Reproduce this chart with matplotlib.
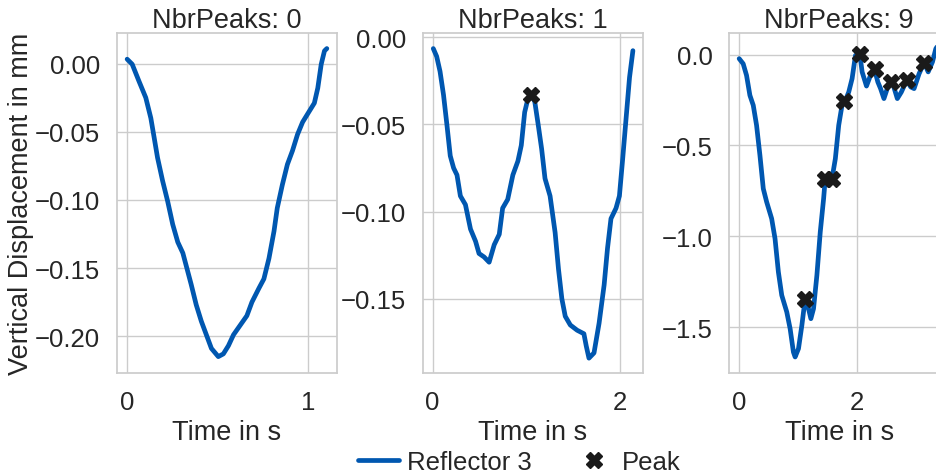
import numpy as np
import matplotlib.pyplot as plt
import seaborn as sns

sns.set_theme(style="whitegrid")
plt.rcParams['font.family'] = ['Liberation Sans', 'DejaVu Sans']
plt.rcParams['axes.unicode_minus'] = True

# Reflector 3 traces for three recordings (time in s, displacement in mm)
t0 = [0, 0.028, 0.065, 0.103, 0.131, 0.149, 0.168, 0.196, 0.224, 0.252, 0.280, 0.308,
      0.326, 0.354, 0.382, 0.410, 0.438, 0.466, 0.504, 0.532, 0.560, 0.588, 0.625, 0.662,
      0.690, 0.728, 0.756, 0.784, 0.812, 0.830, 0.858, 0.886, 0.914, 0.942, 0.970, 1.007,
      1.035, 1.054, 1.073, 1.091, 1.104]
d0 = [0.0032, -0.0005, -0.0128, -0.025, -0.040, -0.054, -0.069, -0.086, -0.101, -0.118,
      -0.131, -0.139, -0.148, -0.162, -0.177, -0.189, -0.199, -0.209, -0.215, -0.213,
      -0.207, -0.199, -0.192, -0.185, -0.175, -0.165, -0.158, -0.143, -0.123, -0.106,
      -0.089, -0.074, -0.064, -0.052, -0.043, -0.035, -0.029, -0.018, -0.0005, 0.0093, 0.011]

t1 = [0.007, 0.043, 0.079, 0.116, 0.152, 0.188, 0.224, 0.260, 0.296, 0.350, 0.404, 0.458,
      0.495, 0.549, 0.603, 0.657, 0.711, 0.747, 0.801, 0.856, 0.910, 0.946, 0.982, 1.018,
      1.054, 1.090, 1.126, 1.163, 1.199, 1.253, 1.307, 1.343, 1.379, 1.415, 1.469, 1.542,
      1.614, 1.639, 1.668, 1.722, 1.776, 1.830, 1.866, 1.903, 1.957, 1.993, 2.029, 2.065,
      2.101, 2.137]
d1 = [-0.0065, -0.011, -0.0196, -0.033, -0.050, -0.068, -0.075, -0.079, -0.091, -0.096,
      -0.110, -0.117, -0.124, -0.126, -0.129, -0.119, -0.113, -0.098, -0.093, -0.079,
      -0.071, -0.062, -0.043, -0.035, -0.033, -0.037, -0.050, -0.064, -0.081, -0.091,
      -0.112, -0.133, -0.150, -0.160, -0.165, -0.168, -0.170, -0.177, -0.184, -0.181,
      -0.164, -0.142, -0.121, -0.104, -0.098, -0.091, -0.069, -0.046, -0.023, -0.0077]

t2 = [0, 0.068, 0.125, 0.182, 0.239, 0.295, 0.352, 0.409, 0.466, 0.551, 0.608, 0.665,
      0.722, 0.807, 0.864, 0.920, 0.949, 1.006, 1.063, 1.119, 1.176, 1.216, 1.261, 1.318,
      1.375, 1.432, 1.460, 1.489, 1.530, 1.574, 1.631, 1.688, 1.744, 1.784, 1.801, 1.858,
      1.915, 1.972, 2.045, 2.085, 2.159, 2.227, 2.295, 2.352, 2.398, 2.455, 2.511, 2.568,
      2.614, 2.682, 2.750, 2.841, 2.909, 2.966, 3.051, 3.136, 3.205, 3.278, 3.335, 3.39]
d2 = [-0.022, -0.050, -0.114, -0.224, -0.279, -0.389, -0.554, -0.738, -0.811, -0.903,
      -1.013, -1.197, -1.325, -1.417, -1.509, -1.638, -1.665, -1.619, -1.491, -1.344,
      -1.399, -1.454, -1.399, -1.215, -0.977, -0.793, -0.683, -0.692, -0.690, -0.683,
      -0.573, -0.389, -0.279, -0.257, -0.252, -0.206, -0.132, -0.004, 0.0055, -0.095,
      -0.173, -0.114, -0.081, -0.151, -0.187, -0.242, -0.187, -0.151, -0.169, -0.242,
      -0.206, -0.141, -0.178, -0.187, -0.105, -0.044, -0.095, -0.040, 0.033, 0.06]

# detected peaks
pk_t1 = [1.054]
pk_d1 = [-0.033]
pk_t2 = [1.119, 1.460, 1.574, 1.784, 2.045, 2.295, 2.568, 2.841, 3.136]
pk_d2 = [-1.344, -0.683, -0.683, -0.257, 0.0055, -0.081, -0.151, -0.141, -0.044]

runs = [(t0, d0, [], []), (t1, d1, pk_t1, pk_d1), (t2, d2, pk_t2, pk_d2)]
xticks = [[0, 1], [0, 2], [0, 2]]
yticks = [[0.0, -0.05, -0.10, -0.15, -0.20], [0.0, -0.05, -0.10, -0.15],
          [0.0, -0.5, -1.0, -1.5]]
yfmt = ['%.2f', '%.2f', '%.1f']
ylims = [(-0.227, 0.0225), (-0.1925, 0.0025), (-1.753, 0.12)]
xlims = [(-0.056, 1.16), (-0.102, 2.245), (-0.17, 3.56)]

line_color = '#0057b0'
fig = plt.figure(figsize=(9.36, 4.77), dpi=100)
lefts = [0.125, 0.452, 0.779]

for i, (t, d, pt, pd) in enumerate(runs):
    ax = fig.add_axes([lefts[i], 0.216, 0.235, 0.713])
    ax.plot(t, d, color=line_color, lw=3.4, label='Reflector 3')
    if len(pt) > 0:
        ax.plot(pt, pd, 'X', color='#1a1a1a', ms=11, label='Peak')
    ax.set_title('NbrPeaks: %d' % len(pt), fontsize=19.5, pad=4)
    ax.set_xlim(*xlims[i])
    ax.set_ylim(*ylims[i])
    ax.set_xticks(xticks[i])
    ax.set_yticks(yticks[i])
    ax.set_yticklabels([(yfmt[i] % v).replace('-', '\u2212') for v in yticks[i]])
    ax.tick_params(labelsize=18.5, pad=6)
    ax.set_xlabel('Time in s', fontsize=19.5, labelpad=4)
    if i == 0:
        ax.set_ylabel('Vertical Displacement in mm', fontsize=19.5, labelpad=1)
    for s in ax.spines.values():
        s.set_color('#cccccc')
    if i == 2:
        handles, labels = ax.get_legend_handles_labels()

fig.legend(handles, labels, loc='center', bbox_to_anchor=(0.555, 0.03), ncol=2,
           frameon=False, fontsize=18.5, handlelength=1.6, columnspacing=1.6,
           handletextpad=0.3)

fig.savefig('out.png', dpi=100)
